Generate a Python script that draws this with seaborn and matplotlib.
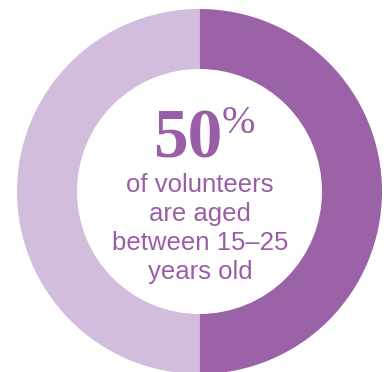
import matplotlib
matplotlib.use("Agg")
import matplotlib.pyplot as plt
import seaborn as sns

# Data
segments = ["aged 15-25", "other ages"]
shares = [50, 50]
headline = "50"
headline_unit = "%"
caption_lines = ["of volunteers", "are aged", "between 15\u201325", "years old"]

dark_purple = "#9b62a7"
light_purple = "#d3bddd"
text_purple = "#9a5ea6"

sns.set_theme(style="white")

W, H = 388, 372
fig = plt.figure(figsize=(W / 100, H / 100), dpi=100)
ax = fig.add_axes([0, 0, 1, 1])

palette = sns.color_palette([dark_purple, light_purple])
ax.pie(shares, colors=palette, startangle=-90, counterclock=True,
       radius=182.5, center=(199.5, H - 191.5),
       wedgeprops=dict(width=182.5 - 122.5, edgecolor="none", linewidth=0))

ax.set_xlim(0, W)
ax.set_ylim(0, H)
ax.set_aspect("equal")
ax.axis("off")

# headline number
ax.text(222, H - 157, headline, ha="right", va="baseline",
        family="Liberation Serif", fontweight="bold", fontsize=50,
        color=text_purple)
ax.text(222, H - 105, headline_unit, ha="left", va="top",
        family="Liberation Serif", fontsize=29, color=text_purple)

baselines = [192, 221, 250, 279]
for line, yb in zip(caption_lines, baselines):
    ax.text(200, H - yb, line, ha="center", va="baseline",
            family="Liberation Sans", fontsize=18.5, color=text_purple)

fig.savefig("out.png", dpi=100)
